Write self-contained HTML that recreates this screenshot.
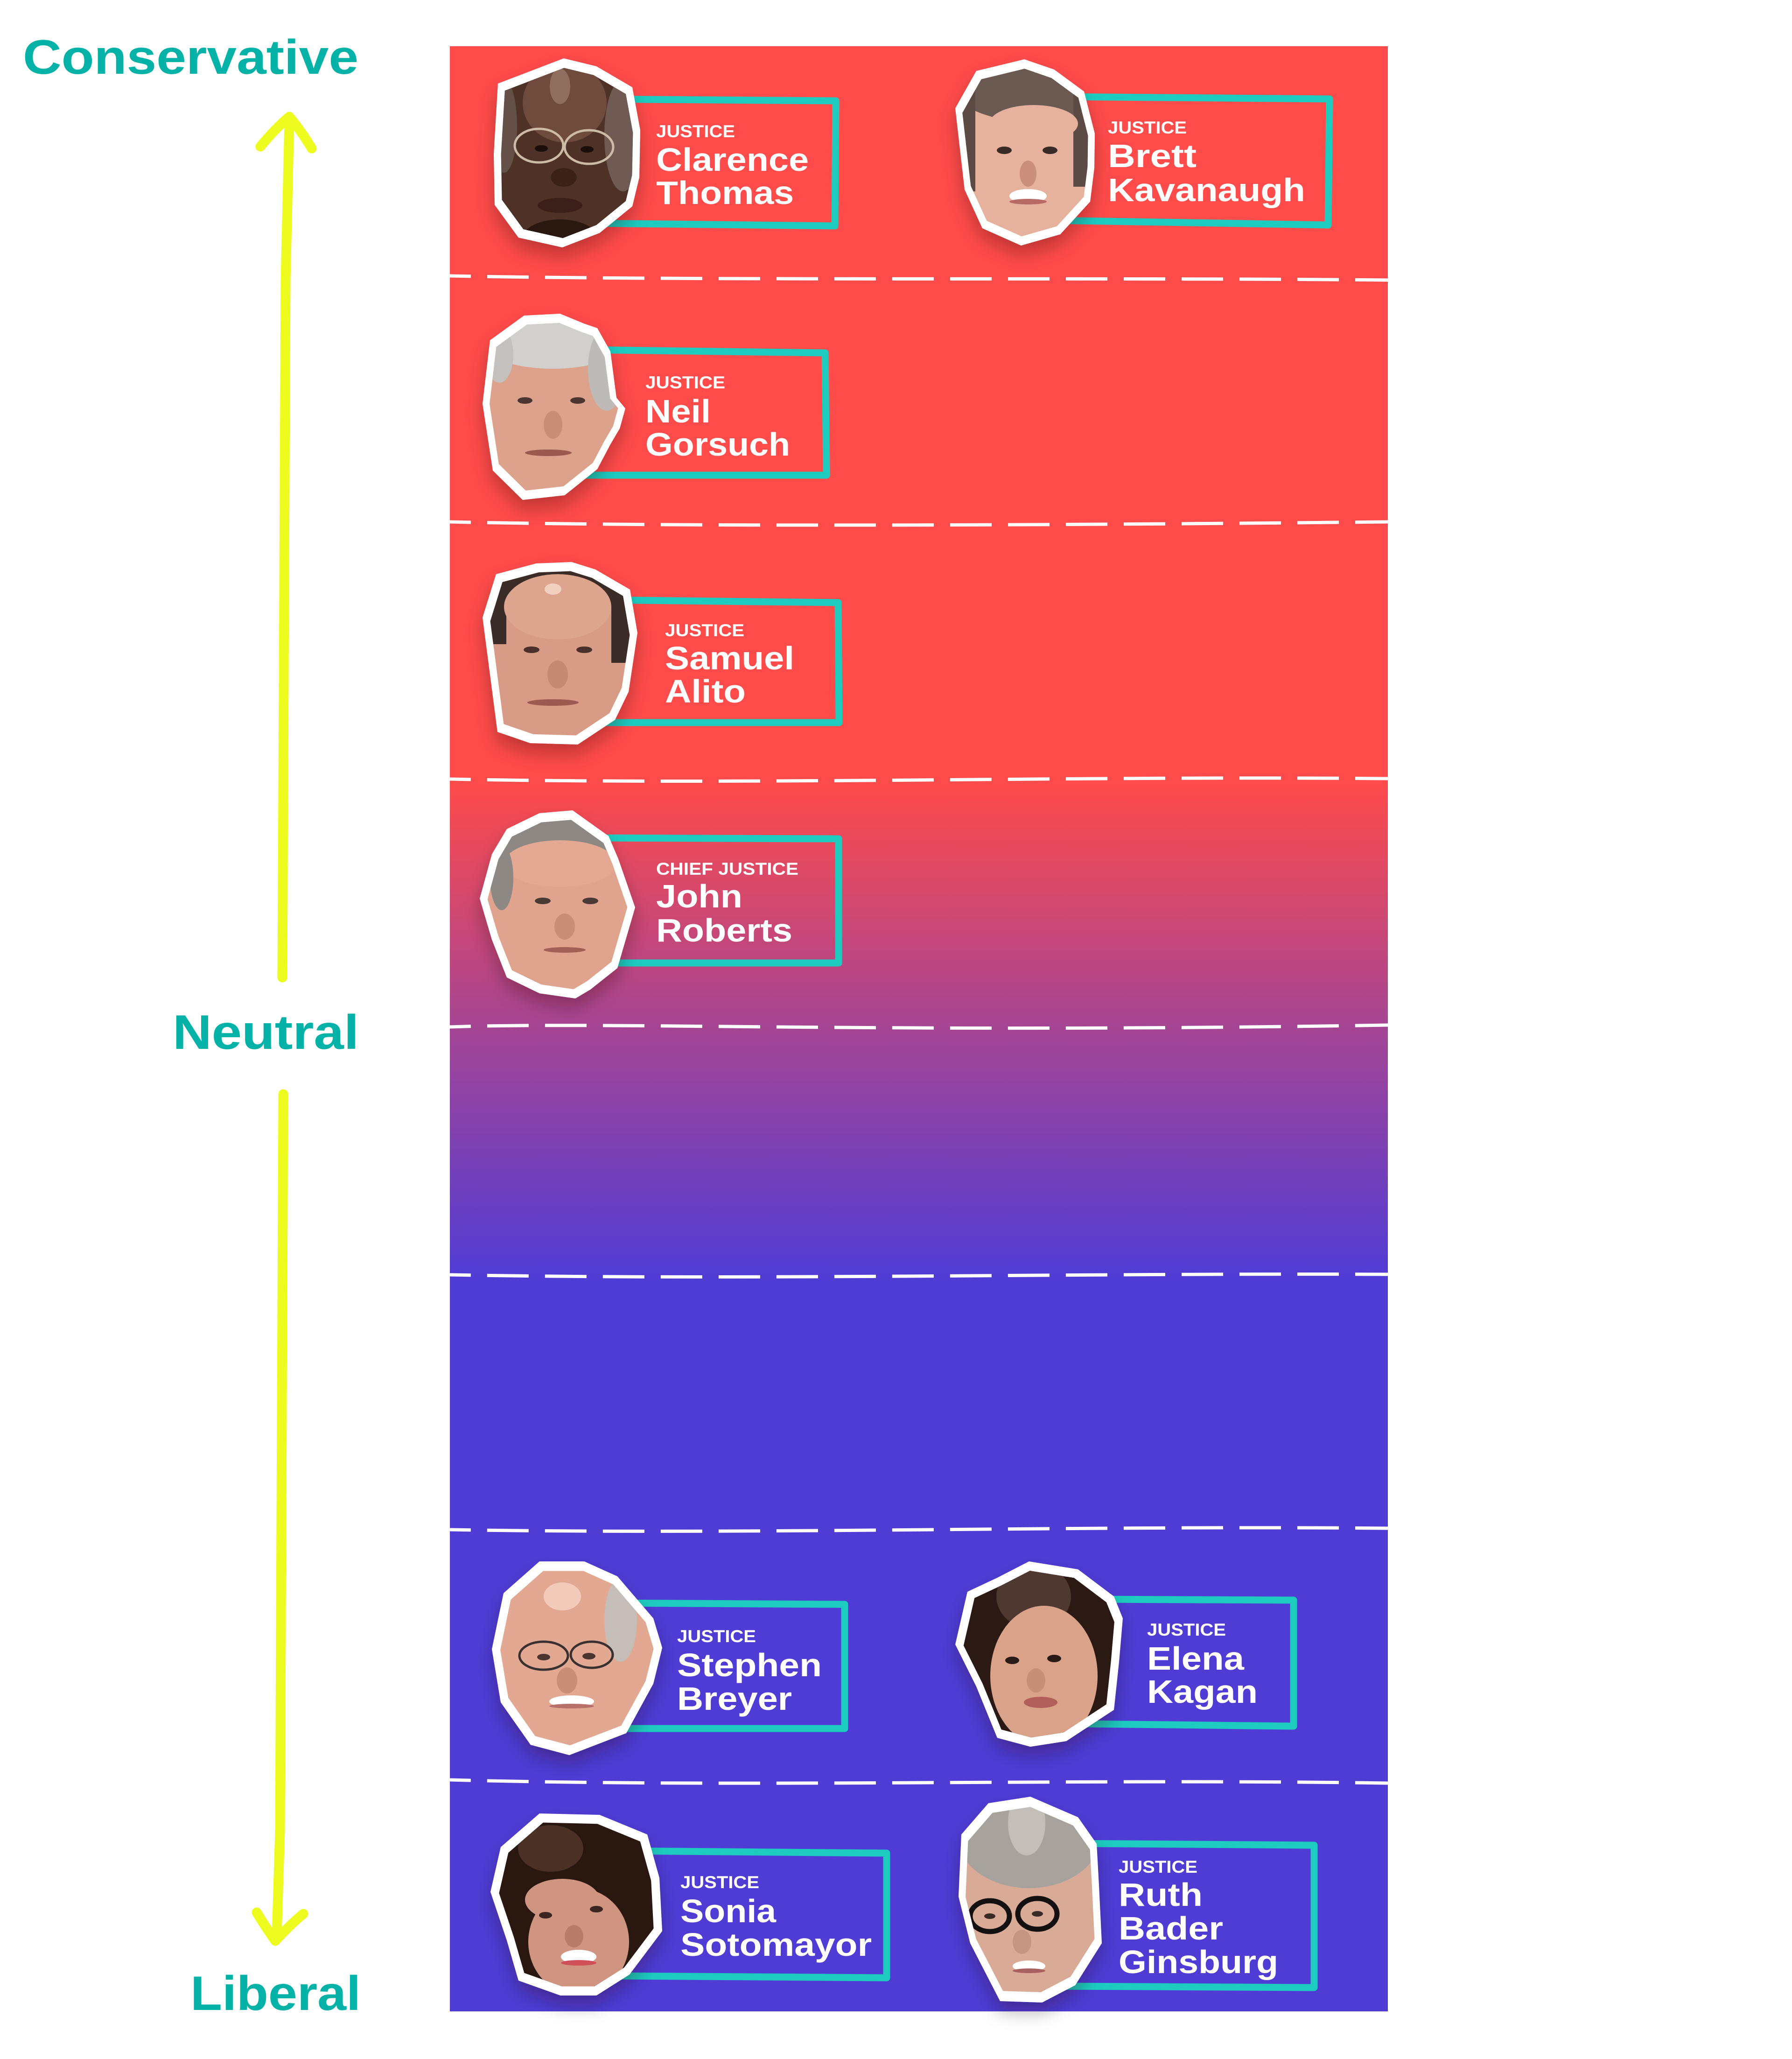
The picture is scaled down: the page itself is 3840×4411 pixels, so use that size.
<!DOCTYPE html>
<html>
<head>
<meta charset="utf-8">
<style>
html,body{margin:0;padding:0;background:#ffffff;}
svg{display:block;}
text{font-family:"Liberation Sans",sans-serif;font-weight:bold;}
</style>
</head>
<body>
<svg width="3840" height="4411" viewBox="0 0 3840 4411" xmlns="http://www.w3.org/2000/svg" xmlns:xlink="http://www.w3.org/1999/xlink">
<defs>
  <linearGradient id="bg" gradientUnits="userSpaceOnUse" x1="0" y1="1670" x2="0" y2="2740">
    <stop offset="0" stop-color="#ff4b4a"/>
    <stop offset="0.5" stop-color="#a44594"/>
    <stop offset="1" stop-color="#4f3cd5"/>
  </linearGradient>
  <filter id="sh" x="-40%" y="-30%" width="180%" height="170%">
    <feDropShadow dx="0" dy="22" stdDeviation="18" flood-color="#1a0010" flood-opacity="0.28"/>
  </filter>

  <polygon id="pT" points="1208,125 1278,142 1355,187 1372,279 1370,380 1355,442 1285,499 1205,530 1111,509 1060,439 1058,330 1067,179"/>
  <polygon id="pK" points="2195,127 2259,149 2323,196 2346,286 2345,360 2336,432 2272,502 2188,526 2105,489 2067,406 2047,232 2092,152"/>
  <polygon id="pG" points="1123,676 1200,672 1251,693 1280,703 1308,753 1321,852 1340,875 1328,918 1308,952 1280,1005 1210,1061 1120,1071 1056,1008 1034,865 1050,729"/>
  <polygon id="pA" points="1149,1207 1225,1204 1276,1220 1350,1263 1366,1356 1347,1482 1318,1542 1238,1595 1136,1592 1066,1568 1047,1422 1034,1323 1063,1230"/>
  <polygon id="pR" points="1227,1736 1304,1791 1325,1840 1361,1944 1323,2074 1265,2120 1233,2139 1156,2128 1086,2094 1054,2013 1028,1925 1054,1830 1086,1776 1156,1742"/>
  <polygon id="pB" points="1156,3345 1252,3345 1323,3377 1400,3467 1419,3530 1400,3607 1342,3713 1220,3760 1137,3738 1073,3647 1054,3533 1079,3413"/>
  <polygon id="pE" points="2205,3345 2310,3362 2387,3420 2406,3467 2398,3560 2387,3663 2285,3730 2208,3742 2137,3723 2092,3613 2047,3523 2073,3410 2137,3380"/>
  <polygon id="pS" points="1156,3885 1285,3888 1387,3930 1413,4023 1419,4137 1349,4230 1278,4275 1201,4275 1111,4243 1086,4157 1051,4053 1073,3957"/>
  <polygon id="pR2" points="2208,3849 2310,3893 2350,3950 2355,4040 2361,4163 2304,4253 2233,4290 2143,4287 2079,4163 2054,4063 2060,3930 2118,3863"/>

  <clipPath id="cT"><use xlink:href="#pT" transform="translate(1215 330) scale(.9) translate(-1215 -330)"/></clipPath>
  <clipPath id="cK"><use xlink:href="#pK" transform="translate(2200 330) scale(.9) translate(-2200 -330)"/></clipPath>
  <clipPath id="cG"><use xlink:href="#pG" transform="translate(1185 870) scale(.9) translate(-1185 -870)"/></clipPath>
  <clipPath id="cA"><use xlink:href="#pA" transform="translate(1200 1400) scale(.9) translate(-1200 -1400)"/></clipPath>
  <clipPath id="cR"><use xlink:href="#pR" transform="translate(1195 1940) scale(.9) translate(-1195 -1940)"/></clipPath>
  <clipPath id="cB"><use xlink:href="#pB" transform="translate(1235 3550) scale(.9) translate(-1235 -3550)"/></clipPath>
  <clipPath id="cE"><use xlink:href="#pE" transform="translate(2225 3545) scale(.9) translate(-2225 -3545)"/></clipPath>
  <clipPath id="cS"><use xlink:href="#pS" transform="translate(1235 4080) scale(.9) translate(-1235 -4080)"/></clipPath>
  <clipPath id="cR2"><use xlink:href="#pR2" transform="translate(2205 4070) scale(.9) translate(-2205 -4070)"/></clipPath>
</defs>

<!-- Panel background -->
<rect x="964" y="99" width="2010" height="4210" fill="url(#bg)"/>

<!-- Dashed separators -->
<g fill="none" stroke="#ffffff" stroke-width="7" stroke-dasharray="89 35" stroke-dashoffset="44">
  <path d="M964,591 C1500,602 2400,594 2974,600"/>
  <path d="M964,1118 C1500,1130 2400,1124 2974,1118"/>
  <path d="M964,1669 C1600,1682 2300,1662 2974,1668"/>
  <path d="M964,2200 C1300,2188 1900,2214 2974,2196"/>
  <path d="M964,2731 C1600,2743 2300,2727 2974,2730"/>
  <path d="M964,3277 C1600,3288 2300,3268 2974,3274"/>
  <path d="M964,3813 C1600,3830 2300,3810 2974,3820"/>
</g>

<!-- Label boxes -->
<g fill="none" stroke="#1ecbbf" stroke-width="15" stroke-linejoin="round">
  <polygon points="1250,212 1791,216 1789,484 1250,478"/>
  <polygon points="2250,207 2849,212 2846,482 2250,472"/>
  <polygon points="1240,749 1768,756 1771,1018 1240,1018"/>
  <polygon points="1280,1285 1796,1291 1798,1548 1280,1548"/>
  <polygon points="1250,1795 1797,1797 1797,2063 1250,2063"/>
  <polygon points="1300,3434 1810,3437 1810,3703 1300,3703"/>
  <polygon points="2330,3426 2772,3428 2772,3698 2330,3693"/>
  <polygon points="1320,3965 1900,3970 1900,4237 1320,4233"/>
  <polygon points="2270,3949 2816,3953 2816,4258 2270,4255"/>
</g>

<!-- White cut-out shapes -->
<g fill="#ffffff" filter="url(#sh)">
  <use xlink:href="#pT"/><use xlink:href="#pK"/><use xlink:href="#pG"/>
  <use xlink:href="#pA"/><use xlink:href="#pR"/><use xlink:href="#pB"/>
  <use xlink:href="#pE"/><use xlink:href="#pS"/><use xlink:href="#pR2"/>
</g>

<!-- Thomas -->
<g clip-path="url(#cT)">
  <rect x="1040" y="110" width="350" height="440" fill="#4e3228"/>
  <ellipse cx="1210" cy="220" rx="90" ry="85" fill="#6e4b3d"/>
  <ellipse cx="1200" cy="185" rx="22" ry="38" fill="#a58575" opacity=".6"/>
  <ellipse cx="1335" cy="290" rx="40" ry="120" fill="#8a7e76" opacity=".55"/>
  <ellipse cx="1080" cy="270" rx="28" ry="100" fill="#7a6d65" opacity=".5"/>
  <ellipse cx="1155" cy="312" rx="52" ry="36" fill="none" stroke="#cdbba8" stroke-width="5"/>
  <ellipse cx="1262" cy="315" rx="52" ry="36" fill="none" stroke="#cdbba8" stroke-width="5"/>
  <ellipse cx="1160" cy="318" rx="14" ry="7" fill="#1b0d09"/>
  <ellipse cx="1258" cy="320" rx="14" ry="7" fill="#1b0d09"/>
  <ellipse cx="1208" cy="380" rx="28" ry="20" fill="#3a2219"/>
  <ellipse cx="1200" cy="440" rx="48" ry="16" fill="#3a2019"/>
  <ellipse cx="1200" cy="510" rx="80" ry="40" fill="#2a170f"/>
</g>
<!-- Kavanaugh -->
<g clip-path="url(#cK)">
  <rect x="2040" y="120" width="320" height="420" fill="#e6b19d"/>
  <ellipse cx="2205" cy="175" rx="170" ry="85" fill="#6b5a52"/>
  <rect x="2040" y="160" width="50" height="250" fill="#5c4b44"/>
  <rect x="2300" y="170" width="60" height="230" fill="#5c4b44"/>
  <ellipse cx="2215" cy="265" rx="95" ry="40" fill="#e6b19d"/>
  <ellipse cx="2152" cy="322" rx="16" ry="8" fill="#3a2a25"/>
  <ellipse cx="2250" cy="322" rx="16" ry="8" fill="#3a2a25"/>
  <ellipse cx="2203" cy="372" rx="18" ry="28" fill="#c98f7c"/>
  <ellipse cx="2203" cy="420" rx="40" ry="15" fill="#ffffff"/>
  <ellipse cx="2203" cy="432" rx="40" ry="6" fill="#b86a64"/>
</g>
<!-- Gorsuch -->
<g clip-path="url(#cG)">
  <rect x="1030" y="665" width="320" height="415" fill="#dca28c"/>
  <ellipse cx="1185" cy="715" rx="175" ry="75" fill="#d2d0cd"/>
  <ellipse cx="1300" cy="790" rx="40" ry="90" fill="#bdbab7"/>
  <ellipse cx="1070" cy="760" rx="30" ry="60" fill="#c3c0bd"/>
  <ellipse cx="1125" cy="858" rx="16" ry="7" fill="#4a3530"/>
  <ellipse cx="1238" cy="858" rx="16" ry="7" fill="#4a3530"/>
  <ellipse cx="1185" cy="910" rx="20" ry="30" fill="#c88d77"/>
  <ellipse cx="1175" cy="970" rx="50" ry="7" fill="#9a5a50"/>
</g>
<!-- Alito -->
<g clip-path="url(#cA)">
  <rect x="1030" y="1195" width="345" height="410" fill="#d89c86"/>
  <ellipse cx="1200" cy="1245" rx="200" ry="65" fill="#3b2c27"/>
  <rect x="1030" y="1240" width="55" height="140" fill="#3b2c27"/>
  <rect x="1310" y="1240" width="60" height="180" fill="#3b2c27"/>
  <ellipse cx="1195" cy="1300" rx="115" ry="70" fill="#dda48e"/>
  <ellipse cx="1185" cy="1262" rx="18" ry="12" fill="#f2d0c0"/>
  <ellipse cx="1139" cy="1392" rx="17" ry="7" fill="#4a3028"/>
  <ellipse cx="1252" cy="1392" rx="17" ry="7" fill="#4a3028"/>
  <ellipse cx="1195" cy="1445" rx="22" ry="30" fill="#c68a74"/>
  <ellipse cx="1185" cy="1505" rx="55" ry="7" fill="#9a5a50"/>
</g>
<!-- Roberts -->
<g clip-path="url(#cR)">
  <rect x="1020" y="1730" width="350" height="415" fill="#e0a48e"/>
  <ellipse cx="1190" cy="1785" rx="160" ry="65" fill="#8d8883"/>
  <ellipse cx="1200" cy="1850" rx="120" ry="50" fill="#e3a993"/>
  <ellipse cx="1075" cy="1880" rx="25" ry="70" fill="#8d8883"/>
  <ellipse cx="1163" cy="1930" rx="17" ry="7" fill="#4a3a35"/>
  <ellipse cx="1265" cy="1930" rx="17" ry="7" fill="#4a3a35"/>
  <ellipse cx="1210" cy="1985" rx="22" ry="28" fill="#c98e78"/>
  <ellipse cx="1210" cy="2035" rx="45" ry="6" fill="#a06055"/>
</g>
<!-- Breyer -->
<g clip-path="url(#cB)">
  <rect x="1045" y="3335" width="385" height="435" fill="#e2a892"/>
  <ellipse cx="1205" cy="3420" rx="40" ry="30" fill="#f2cbbb"/>
  <ellipse cx="1330" cy="3470" rx="35" ry="90" fill="#c4bdb8"/>
  <ellipse cx="1165" cy="3547" rx="52" ry="30" fill="none" stroke="#3a3030" stroke-width="5"/>
  <ellipse cx="1268" cy="3545" rx="45" ry="28" fill="none" stroke="#3a3030" stroke-width="5"/>
  <ellipse cx="1165" cy="3550" rx="14" ry="7" fill="#4a3530"/>
  <ellipse cx="1262" cy="3548" rx="14" ry="7" fill="#4a3530"/>
  <ellipse cx="1215" cy="3600" rx="22" ry="28" fill="#c98e78"/>
  <ellipse cx="1225" cy="3645" rx="48" ry="13" fill="#ffffff"/>
  <ellipse cx="1225" cy="3655" rx="48" ry="5" fill="#b8706a"/>
</g>
<!-- Kagan -->
<g clip-path="url(#cE)">
  <rect x="2040" y="3335" width="375" height="420" fill="#2b1a14"/>
  <ellipse cx="2215" cy="3420" rx="80" ry="70" fill="#4e3830"/>
  <ellipse cx="2237" cy="3590" rx="115" ry="150" fill="#dba28a"/>
  <ellipse cx="2169" cy="3557" rx="15" ry="8" fill="#2a1a15"/>
  <ellipse cx="2259" cy="3553" rx="15" ry="8" fill="#2a1a15"/>
  <ellipse cx="2220" cy="3600" rx="20" ry="26" fill="#c88f77"/>
  <ellipse cx="2230" cy="3647" rx="36" ry="12" fill="#b25e5a"/>
</g>
<!-- Sotomayor -->
<g clip-path="url(#cS)">
  <rect x="1045" y="3875" width="385" height="410" fill="#2a1810"/>
  <ellipse cx="1180" cy="3960" rx="70" ry="50" fill="#4a3025"/>
  <ellipse cx="1240" cy="4160" rx="108" ry="115" fill="#cf9580"/>
  <ellipse cx="1205" cy="4070" rx="80" ry="45" fill="#cf9580"/>
  <ellipse cx="1169" cy="4103" rx="14" ry="7" fill="#3a2520"/>
  <ellipse cx="1278" cy="4090" rx="14" ry="7" fill="#3a2520"/>
  <ellipse cx="1230" cy="4148" rx="20" ry="24" fill="#b87c68"/>
  <ellipse cx="1240" cy="4192" rx="38" ry="15" fill="#ffffff"/>
  <ellipse cx="1240" cy="4205" rx="38" ry="6" fill="#d0505a"/>
</g>
<!-- Ginsburg -->
<g clip-path="url(#cR2)">
  <rect x="2045" y="3840" width="325" height="460" fill="#d9ab96"/>
  <ellipse cx="2205" cy="3930" rx="155" ry="115" fill="#a8a29c"/>
  <ellipse cx="2200" cy="3905" rx="40" ry="70" fill="#c4beb8"/>
  <ellipse cx="2121" cy="4105" rx="42" ry="33" fill="none" stroke="#141010" stroke-width="11"/>
  <ellipse cx="2223" cy="4100" rx="42" ry="33" fill="none" stroke="#141010" stroke-width="11"/>
  <ellipse cx="2121" cy="4105" rx="12" ry="6" fill="#3a2a25"/>
  <ellipse cx="2223" cy="4100" rx="12" ry="6" fill="#3a2a25"/>
  <ellipse cx="2190" cy="4160" rx="20" ry="26" fill="#c49580"/>
  <ellipse cx="2205" cy="4212" rx="35" ry="12" fill="#ffffff"/>
  <ellipse cx="2205" cy="4222" rx="35" ry="5" fill="#a86060"/>
</g>

<!-- Labels -->
<g fill="#ffffff">
  <text x="1406" y="294" font-size="37" textLength="169" lengthAdjust="spacingAndGlyphs">JUSTICE</text>
  <text x="1406" y="366" font-size="70" textLength="327" lengthAdjust="spacingAndGlyphs">Clarence</text>
  <text x="1406" y="437" font-size="70" textLength="295" lengthAdjust="spacingAndGlyphs">Thomas</text>

  <text x="2374" y="286" font-size="37" textLength="169" lengthAdjust="spacingAndGlyphs">JUSTICE</text>
  <text x="2374" y="358" font-size="70" textLength="190" lengthAdjust="spacingAndGlyphs">Brett</text>
  <text x="2374" y="431" font-size="70" textLength="423" lengthAdjust="spacingAndGlyphs">Kavanaugh</text>

  <text x="1383" y="832" font-size="37" textLength="171" lengthAdjust="spacingAndGlyphs">JUSTICE</text>
  <text x="1383" y="905" font-size="70" textLength="140" lengthAdjust="spacingAndGlyphs">Neil</text>
  <text x="1383" y="976" font-size="70" textLength="310" lengthAdjust="spacingAndGlyphs">Gorsuch</text>

  <text x="1425" y="1363" font-size="37" textLength="170" lengthAdjust="spacingAndGlyphs">JUSTICE</text>
  <text x="1425" y="1434" font-size="70" textLength="277" lengthAdjust="spacingAndGlyphs">Samuel</text>
  <text x="1425" y="1505" font-size="70" textLength="173" lengthAdjust="spacingAndGlyphs">Alito</text>

  <text x="1406" y="1874" font-size="37" textLength="305" lengthAdjust="spacingAndGlyphs">CHIEF JUSTICE</text>
  <text x="1406" y="1944" font-size="70" textLength="185" lengthAdjust="spacingAndGlyphs">John</text>
  <text x="1406" y="2017" font-size="70" textLength="292" lengthAdjust="spacingAndGlyphs">Roberts</text>

  <text x="1451" y="3518" font-size="37" textLength="169" lengthAdjust="spacingAndGlyphs">JUSTICE</text>
  <text x="1451" y="3591" font-size="70" textLength="310" lengthAdjust="spacingAndGlyphs">Stephen</text>
  <text x="1451" y="3663" font-size="70" textLength="246" lengthAdjust="spacingAndGlyphs">Breyer</text>

  <text x="2458" y="3504" font-size="37" textLength="169" lengthAdjust="spacingAndGlyphs">JUSTICE</text>
  <text x="2458" y="3577" font-size="70" textLength="208" lengthAdjust="spacingAndGlyphs">Elena</text>
  <text x="2458" y="3648" font-size="70" textLength="237" lengthAdjust="spacingAndGlyphs">Kagan</text>

  <text x="1458" y="4045" font-size="37" textLength="169" lengthAdjust="spacingAndGlyphs">JUSTICE</text>
  <text x="1458" y="4118" font-size="70" textLength="205" lengthAdjust="spacingAndGlyphs">Sonia</text>
  <text x="1458" y="4190" font-size="70" textLength="410" lengthAdjust="spacingAndGlyphs">Sotomayor</text>

  <text x="2397" y="4012" font-size="37" textLength="169" lengthAdjust="spacingAndGlyphs">JUSTICE</text>
  <text x="2397" y="4083" font-size="70" textLength="180" lengthAdjust="spacingAndGlyphs">Ruth</text>
  <text x="2397" y="4155" font-size="70" textLength="224" lengthAdjust="spacingAndGlyphs">Bader</text>
  <text x="2397" y="4227" font-size="70" textLength="342" lengthAdjust="spacingAndGlyphs">Ginsburg</text>
</g>

<!-- Axis arrows -->
<g fill="none" stroke="#eefb1e" stroke-width="21" stroke-linecap="round" stroke-linejoin="round">
  <path d="M605,2094 L612,600 L620,258"/>
  <path d="M558,314 Q590,275 620,250 Q645,280 668,318"/>
  <path d="M607,2344 L600,3920 L593,4148"/>
  <path d="M550,4097 Q570,4130 590,4158 Q625,4120 650,4100"/>
</g>

<!-- Axis labels -->
<g fill="#04b2a8">
  <text x="49" y="158" font-size="104" textLength="719" lengthAdjust="spacingAndGlyphs">Conservative</text>
  <text x="370" y="2247" font-size="104" textLength="399" lengthAdjust="spacingAndGlyphs">Neutral</text>
  <text x="408" y="4306" font-size="104" textLength="365" lengthAdjust="spacingAndGlyphs">Liberal</text>
</g>
</svg>
</body>
</html>
